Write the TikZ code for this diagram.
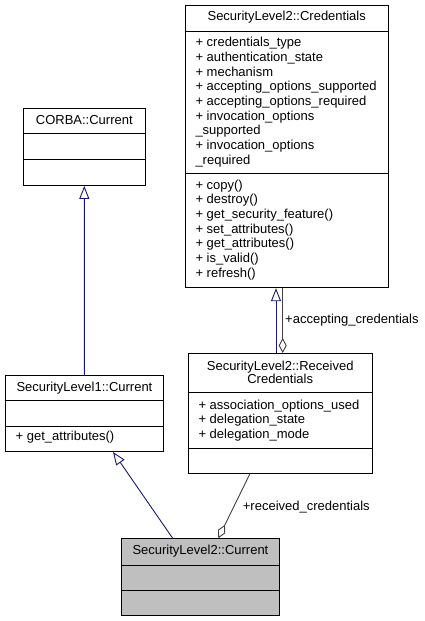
\documentclass[tikz,border=0pt]{standalone}
\usepackage{fontspec}
\setmainfont{Liberation Sans}
\usetikzlibrary{arrows.meta,calc}
\definecolor{edgeblue}{HTML}{191970}
\definecolor{edgegray}{HTML}{404040}
\definecolor{fillgray}{HTML}{BFBFBF}
\tikzset{
  classbox/.style={draw=black, line width=0.9pt, anchor=north west, inner sep=0pt, fill=white},
  sepline/.style={draw=black, line width=0.9pt},
  title/.style={anchor=base, inner sep=0pt, font=\fontsize{13}{14.6}\selectfont},
  member/.style={anchor=base west, inner sep=0pt, font=\fontsize{13}{14.6}\selectfont},
  elabel/.style={anchor=base west, inner sep=0pt, font=\fontsize{13}{14.6}\selectfont},
  inherit/.style={draw=edgeblue, line width=0.9pt, -{Triangle[open, length=13pt, width=10pt]}},
  aggreg/.style={draw=edgegray, line width=0.9pt, -{Diamond[open, length=15pt, width=8pt]}},
}
\begin{document}
\begin{tikzpicture}[x=1pt,y=-1pt]
\useasboundingbox (0,0) rectangle (425,621);
\fill[white] (0,0) rectangle (425,621);

% SecurityLevel2::Credentials
\node[classbox, minimum width=203.5pt, minimum height=282pt] (cred) at (184.5,5.3) {};
\draw[sepline] ($(cred.north west)+(0,26.4)$) -- ($(cred.north east)+(0,26.4)$);
\draw[sepline] ($(cred.north west)+(0,168.4)$) -- ($(cred.north east)+(0,168.4)$);
\node[title] (credT) at ($(cred.north)+(0,15.4)$) {SecurityLevel2::Credentials};
\foreach \t [count=\i from 0] in {{+ credentials\_type},{+ authentication\_state},{+ mechanism},{+ accepting\_options\_supported},{+ accepting\_options\_required},{+ invocation\_options},{\_supported},{+ invocation\_options},{\_required}}
  \node[member] (credA\i) at ($(cred.north west)+(10.8,{41.4+14.67*\i})$) {\t};
\foreach \t [count=\i from 0] in {{+ copy()},{+ destroy()},{+ get\_security\_feature()},{+ set\_attributes()},{+ get\_attributes()},{+ is\_valid()},{+ refresh()}}
  \node[member] (credM\i) at ($(cred.north west)+(10.8,{183.7+14.67*\i})$) {\t};

% CORBA::Current
\node[classbox, minimum width=122.3pt, minimum height=76.7pt] (corba) at (22.7,108.3) {};
\draw[sepline] ($(corba.north west)+(0,25)$) -- ($(corba.north east)+(0,25)$);
\draw[sepline] ($(corba.north west)+(0,51)$) -- ($(corba.north east)+(0,51)$);
\node[title] (corbaT) at ($(corba.north)+(0,15.7)$) {CORBA::Current};

% SecurityLevel1::Current
\node[classbox, minimum width=158.6pt, minimum height=75.7pt] (slone) at (4.7,375.3) {};
\draw[sepline] ($(slone.north west)+(0,25.4)$) -- ($(slone.north east)+(0,25.4)$);
\draw[sepline] ($(slone.north west)+(0,50.7)$) -- ($(slone.north east)+(0,50.7)$);
\node[title] (sloneT) at ($(slone.north)+(0,15.7)$) {SecurityLevel1::Current};
\node[member] (sloneM) at ($(slone.north west)+(10.8,64.7)$) {+ get\_attributes()};

% SecurityLevel2::ReceivedCredentials
\node[classbox, minimum width=184.5pt, minimum height=119.7pt] (rc) at (187.5,353) {};
\draw[sepline] ($(rc.north west)+(0,39.7)$) -- ($(rc.north east)+(0,39.7)$);
\draw[sepline] ($(rc.north west)+(0,95.3)$) -- ($(rc.north east)+(0,95.3)$);
\node[title] (rcT1) at ($(rc.north)+(0,17)$) {SecurityLevel2::Received};
\node[title] (rcT2) at ($(rc.north)+(0,30.5)$) {Credentials};
\foreach \t [count=\i from 0] in {{+ association\_options\_used},{+ delegation\_state},{+ delegation\_mode}}
  \node[member] (rcA\i) at ($(rc.north west)+(10.8,{56.3+14.6*\i})$) {\t};

% SecurityLevel2::Current
\node[classbox, fill=fillgray, minimum width=158.6pt, minimum height=76.7pt] (sltwo) at (120.7,538.3) {};
\draw[sepline] ($(sltwo.north west)+(0,26.7)$) -- ($(sltwo.north east)+(0,26.7)$);
\draw[sepline] ($(sltwo.north west)+(0,51.7)$) -- ($(sltwo.north east)+(0,51.7)$);
\node[title] (sltwoT) at ($(sltwo.north)+(0,15.7)$) {SecurityLevel2::Current};

% connector x positions
\coordinate (xa) at (172.7,0);
\coordinate (xb) at (113,0);
\coordinate (xc) at (276,0);
\coordinate (xd) at (282.7,0);
\coordinate (xe) at (250,0);
\coordinate (xf) at (218.3,0);

% connectors
\draw[inherit] (slone.north) -- (corba.south);
\draw[inherit] (sltwo.north -| xa) -- (slone.south -| xb);
\draw[inherit] (rc.north -| xc) -- (cred.south -| xc);
\draw[aggreg] (cred.south -| xd) -- (rc.north -| xd);
\draw[aggreg] (rc.south -| xe) -- (sltwo.north -| xf);

\node[elabel] (lblacc) at (285,323) {+accepting\_credentials};
\node[elabel] (lblrec) at (242.7,510) {+received\_credentials};
\end{tikzpicture}
\end{document}
